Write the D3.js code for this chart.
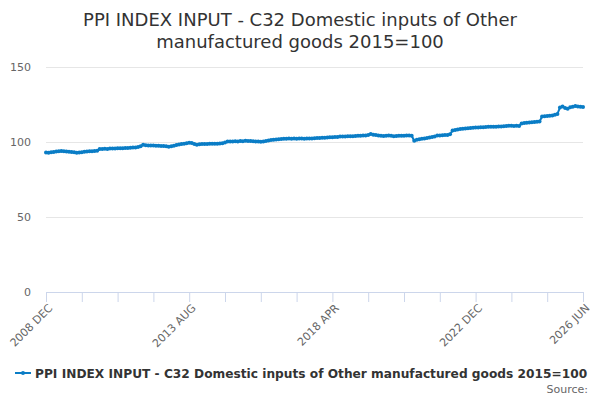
<!DOCTYPE html>
<html>
<head>
<meta charset="utf-8">
<script src="https://cdn.jsdelivr.net/npm/d3@7"></script>
<style>
  body { margin: 0; background: #fff; }
  svg { font-family: "DejaVu Sans", sans-serif; }
</style>
</head>
<body>
<svg width="600" height="400"></svg>
<script>
const title = ["PPI INDEX INPUT - C32 Domestic inputs of Other", "manufactured goods 2015=100"];
const seriesName = "PPI INDEX INPUT - C32 Domestic inputs of Other manufactured goods 2015=100";

// monthly values, 2008 DEC .. 2026 JUN
const values = [
  93.0, 92.8, 93.1, 93.3, 93.6, 93.9, 94.0, 93.8, 93.6, 93.5, 93.3, 93.1,
  92.9, 93.0, 93.2, 93.5, 93.7, 93.9, 93.8, 94.0, 94.2, 95.3, 95.4, 95.5,
  95.4, 95.6, 95.7, 95.6, 95.8, 95.9, 95.9, 96.0, 96.0, 96.1, 96.3, 96.4,
  96.6, 97.2, 98.2, 97.8, 97.7, 97.6, 97.7, 97.5, 97.5, 97.4, 97.3, 97.1,
  96.9, 97.1, 97.5, 98.0, 98.4, 98.7, 98.9, 99.2, 99.5, 99.3, 98.7, 98.2,
  98.5, 98.6, 98.7, 98.6, 98.8, 98.8, 98.9, 98.8, 99.0, 99.1, 99.6, 100.3,
  100.3, 100.4, 100.5, 100.4, 100.6, 100.5, 100.9, 100.7, 100.6, 100.5, 100.4, 100.3,
  100.2, 100.4, 100.7, 101.0, 101.3, 101.5, 101.7, 101.8, 102.0, 102.1, 102.2, 102.3,
  102.2, 102.3, 102.1, 102.3, 102.4, 102.2, 102.3, 102.4, 102.4, 102.5, 102.6, 102.7,
  102.8, 102.9, 103.0, 103.1, 103.2, 103.3, 103.4, 103.6, 103.6, 103.7, 103.8, 103.8,
  103.9, 104.0, 104.1, 104.1, 104.3, 104.4, 104.6, 105.3, 104.9, 104.6, 104.3, 104.1,
  104.0, 104.2, 104.3, 104.1, 103.9, 104.0, 104.2, 104.1, 104.2, 104.3, 104.4, 104.2,
  100.9, 101.5, 101.8, 102.2, 102.4, 102.6, 103.0, 103.3, 103.6, 104.3, 104.4, 104.5,
  104.6, 104.7, 105.2, 107.6, 108.0, 108.3, 108.7, 108.9, 109.0, 109.2, 109.4, 109.5,
  109.6, 109.7, 109.8, 109.9, 110.0, 110.1, 110.1, 110.2, 110.2, 110.3, 110.4, 110.5,
  110.6, 110.9, 110.8, 110.7, 110.8, 110.7, 112.4, 112.6, 112.8, 113.0, 113.2, 113.4,
  113.5, 113.6, 117.0, 117.1, 117.3, 117.5, 117.7, 118.2, 118.7, 123.0, 123.6, 122.6,
  122.2, 123.1, 123.5, 124.0, 123.6, 123.5, 123.4
];

const monthNames = ["JAN", "FEB", "MAR", "APR", "MAY", "JUN", "JUL", "AUG", "SEP", "OCT", "NOV", "DEC"];
// category labels, one per month starting 2008 DEC
const categories = values.map((v, i) => {
  const m = 11 + i;
  return (2008 + Math.floor(m / 12)) + " " + monthNames[m % 12];
});
const yTicks = [0, 50, 100, 150];
const tickEvery = 14; // a tick every 14 months, a label every 4th tick

const color = "#0a7dc6";
const svg = d3.select("svg");
const plotLeft = 46, plotRight = 583, plotTop = 67, plotBottom = 292;

const x = d3.scaleLinear().domain([0, categories.length - 1]).range([plotLeft, plotRight]);
const y = d3.scaleLinear().domain([0, 150]).range([plotBottom, plotTop]);

// title
svg.append("text")
  .attr("x", 300).attr("y", 26)
  .attr("text-anchor", "middle")
  .attr("font-size", 18).attr("fill", "#333")
  .selectAll("tspan").data(title).join("tspan")
  .attr("x", 300).attr("dy", (d, i) => i ? 22 : 0)
  .text(d => d);

// y grid + labels
const yAxis = svg.append("g").attr("transform", `translate(${plotLeft},0)`)
  .call(d3.axisLeft(y).tickValues(yTicks).tickSize(-(plotRight - plotLeft)).tickPadding(15));
yAxis.select(".domain").remove();
yAxis.selectAll(".tick line").attr("stroke", "#e6e6e6");
yAxis.selectAll(".tick text").attr("fill", "#666").attr("font-size", 11)
  .attr("font-family", "DejaVu Sans");

// x axis
const tickIdx = d3.range(0, categories.length, tickEvery);
const xAxis = svg.append("g").attr("transform", `translate(0,${plotBottom})`)
  .call(d3.axisBottom(x).tickValues(tickIdx).tickSize(10)
    .tickFormat(i => (i / tickEvery) % 4 === 0 || i === categories.length - 1 ? categories[i] : ""));
xAxis.select(".domain").attr("stroke", "#ccd6eb");
xAxis.selectAll(".tick line").attr("stroke", "#ccd6eb");
xAxis.selectAll(".tick text")
  .attr("fill", "#666").attr("font-size", 11).attr("font-family", "DejaVu Sans")
  .attr("text-anchor", "end")
  .attr("transform", "translate(4,14) rotate(-45)")
  .attr("dy", "0.35em").attr("y", 0);

// line
const line = d3.line().x((d, i) => x(i)).y(d => y(d));
svg.append("path").datum(values)
  .attr("fill", "none").attr("stroke", color).attr("stroke-width", 2)
  .attr("d", line);
svg.append("g").selectAll("circle").data(values).join("circle")
  .attr("cx", (d, i) => x(i)).attr("cy", d => y(d)).attr("r", 2)
  .attr("fill", color);

// legend
const lg = svg.append("g").attr("transform", "translate(15,373)");
lg.append("path").attr("d", "M0,0 H16").attr("stroke", color).attr("stroke-width", 2);
lg.append("circle").attr("cx", 8).attr("cy", 0).attr("r", 2).attr("fill", color);
lg.append("text").attr("x", 20).attr("y", 4.5)
  .attr("font-size", 12.2).attr("font-weight", "bold").attr("fill", "#333")
  .text(seriesName);

svg.append("text").attr("x", 588).attr("y", 393)
  .attr("text-anchor", "end").attr("font-size", 11).attr("fill", "#666")
  .text("Source:");
</script>
</body>
</html>
